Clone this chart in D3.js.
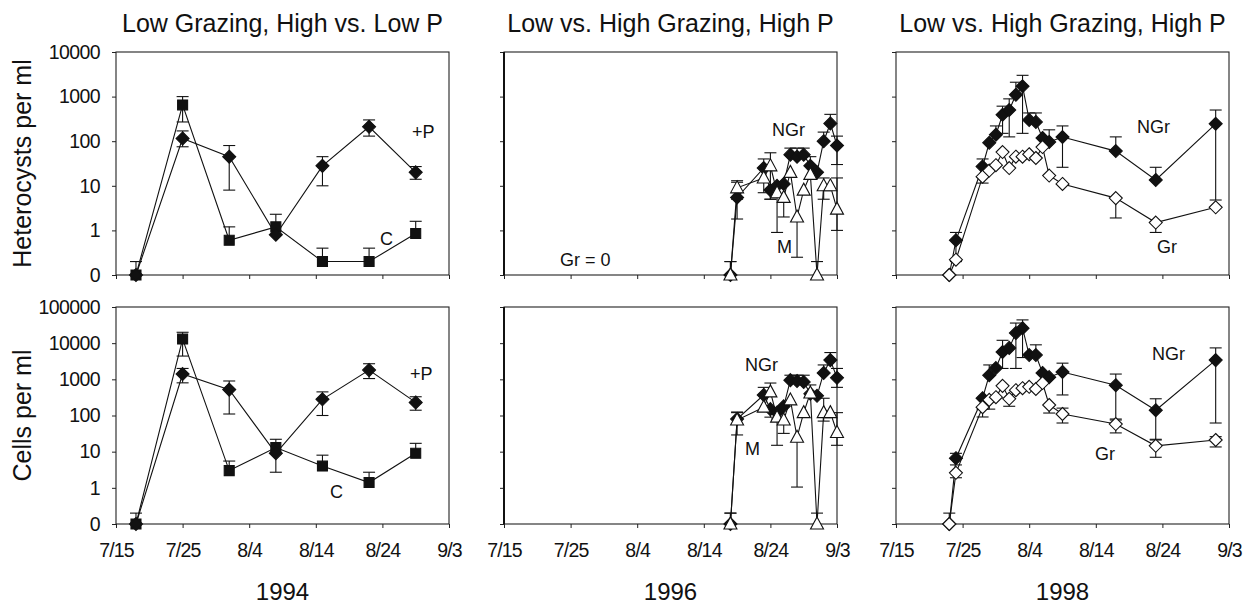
<!DOCTYPE html>
<html><head><meta charset="utf-8">
<script src="https://cdn.jsdelivr.net/npm/d3@7"></script>
<style>
body{margin:0;background:#fff;}
svg text{font-family:"Liberation Sans", Arial, Helvetica, sans-serif; fill:#111;}
</style></head><body>
<svg id="chart" width="1248" height="605"></svg>
<script>
// ---------------- DATA ----------------
const panelTitles = ["Low Grazing, High vs. Low P", "Low vs. High Grazing, High P", "Low vs. High Grazing, High P"];
const years = ["1994", "1996", "1998"];
const rowTitles = ["Heterocysts per ml", "Cells per ml"];
const xTickLabels = ["7/15", "7/25", "8/4", "8/14", "8/24", "9/3"];
const yTicksTop = [0.1, 1, 10, 100, 1000, 10000];
const yTickLabelsTop = ["0", "1", "10", "100", "1000", "10000"];
const yTicksBot = [0.1, 1, 10, 100, 1000, 10000, 100000];
const yTickLabelsBot = ["0", "1", "10", "100", "1000", "10000", "100000"];

const dates94 = ["7/18","7/25","8/1","8/8","8/15","8/22","8/29"];
const dates96 = ["8/18","8/19","8/23","8/24","8/25","8/26","8/27","8/28","8/29","8/30","8/31","9/1","9/2","9/3"];
const dates98 = ["7/23","7/24","7/28","7/29","7/30","7/31","8/1","8/2","8/3","8/4","8/5","8/6","8/7","8/9","8/17","8/23","9/1"];

// 1994 heterocysts: C (control) and +P
const hetC94   = [0, 650, 0.6, 1.2, 0.2, 0.2, 0.85];
const hetC94Hi = [0.2, 1000, 1.2, 2.3, 0.4, 0.4, 1.6];
const hetC94Lo = [null, 270, null, null, null, null, null];
const hetP94   = [0, 115, 45, 0.8, 28, 210, 20];
const hetP94Hi = [null, 170, 80, null, 45, 300, 27];
const hetP94Lo = [null, 75, 8, null, 10, 130, 14];
// 1994 cells
const cellC94   = [0, 13000, 3, 13, 4, 1.4, 9];
const cellC94Hi = [0.2, 20000, 5.5, 22, 8, 2.7, 17];
const cellC94Lo = [null, 4400, null, null, null, null, null];
const cellP94   = [0, 1400, 520, 9, 280, 1800, 230];
const cellP94Hi = [null, 2000, 900, null, 450, 2700, 330];
const cellP94Lo = [null, 800, 110, 2.7, 100, 1050, 140];

// 1996 heterocysts: NGr and M
const hetN96   = [0, 5.5, 25, 8, 10, 11, 50, 45, 50, 28, 20, 100, 250, 80];
const hetN96Hi = [0.2, 12, 40, null, null, null, 70, 70, 70, 45, null, 160, 400, 130];
const hetN96Lo = [null, 1.8, null, 5, 6, null, null, null, null, null, null, null, null, 30];
const hetM96   = [0, 9, 15, 28, 7, 5.5, 20, 2, 8, 18, 0, 10, 10, 3];
const hetM96Hi = [0.2, 13, null, 55, null, null, null, null, null, null, 0.2, 15, null, 15];
const hetM96Lo = [null, 5, 7, 5, 0.9, 2, null, 0.25, null, null, null, 5, null, 1];
// 1996 cells
const cellN96   = [0, 80, 370, 150, 120, 180, 950, 900, 850, 400, 350, 1500, 3400, 1100];
const cellN96Hi = [0.2, 120, 600, null, null, null, 1300, 1300, 1300, 700, null, 2500, 5500, 2000];
const cellN96Lo = [null, null, null, 90, 80, null, null, null, null, null, null, null, null, 600];
const cellM96   = [0, 75, 170, 450, 90, 75, 270, 25, 120, 420, 0, 120, 120, 34];
const cellM96Hi = [0.2, 125, null, 790, null, null, null, null, null, null, 0.2, 300, null, 120];
const cellM96Lo = [null, 29, null, null, 15, 32, null, 1.05, null, null, null, 70, null, 15];

// 1998 heterocysts: NGr and Gr
const hetN98   = [0, 0.6, 27, 92, 140, 390, 500, 1100, 1700, 300, 270, 118, 96, 124, 60, 13.5, 245];
const hetN98Hi = [null, 0.9, 40, null, 220, 610, 890, 2100, 3000, 430, 430, null, 180, 220, 125, 26, 500];
const hetN98Lo = [null, 0.2, null, null, null, 150, 125, null, 150, null, null, null, null, 26, null, null, 4.8];
const hetG98   = [0, 0.22, 16, 22, 29, 57, 25, 45, 45, 51, 42, 74, 17, 11, 5.3, 1.5, 3.3];
const hetG98Hi = [null, null, null, null, null, null, null, null, null, null, null, null, null, null, null, null, null];
const hetG98Lo = [null, null, 11.5, null, null, null, null, null, null, null, null, null, null, null, 1.9, 0.9, null];
// 1998 cells
const cellN98   = [0, 6.6, 300, 1300, 2050, 5700, 7400, 19000, 26000, 4700, 4700, 1500, 1150, 1600, 690, 140, 3400];
const cellN98Hi = [0.2, 9, null, 2500, null, 12000, null, 36000, 44000, null, 9000, null, null, 2800, 1400, 290, 7400];
const cellN98Lo = [null, 4.3, 150, null, null, 2000, null, 2000, 4000, null, null, null, null, 370, 80, 22, 62];
const cellG98   = [0, 2.6, 170, 270, 320, 660, 290, 500, 570, 620, 540, 790, 195, 110, 58, 14.5, 21];
const cellG98Hi = [null, null, null, null, null, null, null, null, null, null, null, null, null, 160, 75, 21, 26];
const cellG98Lo = [null, 1.9, 91, 150, null, null, 180, null, null, null, null, null, 117, 62, 33, 7, 13.5];

// ---------------- LAYOUT ----------------
const svg = d3.select("#chart");
const colX = [116, 504, 896];
const PW = 333;
const rowsLayout = [
  {top: 52, bottom: 275, max: 1e4, ticks: yTicksTop, labels: yTickLabelsTop},
  {top: 307, bottom: 524, max: 1e5, ticks: yTicksBot, labels: yTickLabelsBot}
];
const parse = d3.timeParse("%m/%d/%Y");
const pd = s => parse(s + "/2000");
const floorV = v => Math.max(v, 0.1);

const S = (dates, v, lo, hi, marker) => ({dates, v, lo, hi, marker});
const panels = [
  [ // top row
    [S(dates94, hetC94, hetC94Lo, hetC94Hi, "square"), S(dates94, hetP94, hetP94Lo, hetP94Hi, "diamond")],
    [S(dates96, hetN96, hetN96Lo, hetN96Hi, "diamond"), S(dates96, hetM96, hetM96Lo, hetM96Hi, "triangle")],
    [S(dates98, hetN98, hetN98Lo, hetN98Hi, "diamond"), S(dates98, hetG98, hetG98Lo, hetG98Hi, "openDiamond")]
  ],
  [ // bottom row
    [S(dates94, cellC94, cellC94Lo, cellC94Hi, "square"), S(dates94, cellP94, cellP94Lo, cellP94Hi, "diamond")],
    [S(dates96, cellN96, cellN96Lo, cellN96Hi, "diamond"), S(dates96, cellM96, cellM96Lo, cellM96Hi, "triangle")],
    [S(dates98, cellN98, cellN98Lo, cellN98Hi, "diamond"), S(dates98, cellG98, cellG98Lo, cellG98Hi, "openDiamond")]
  ]
];
// annotation text, offsets relative to panel's top-left corner
const notes = [
  [[["+P", 296, 86], ["C", 264, 193]], [["Gr = 0", 56, 214], ["NGr", 268, 84], ["M", 273, 201]], [["NGr", 241, 81], ["Gr", 261, 201]]],
  [[["+P", 294, 73], ["C", 214, 191]], [["NGr", 241, 64], ["M", 241, 148]], [["NGr", 256, 53], ["Gr", 199, 153]]]
];

const markerPath = {
  square: "M-5,-5H5V5H-5Z",
  diamond: "M0,-6.5L6.5,0L0,6.5L-6.5,0Z",
  openDiamond: "M0,-6.5L6.5,0L0,6.5L-6.5,0Z",
  triangle: "M0,-7L6.5,5L-6.5,5Z"
};
const AX = "#222";

rowsLayout.forEach((row, ri) => {
  const y = d3.scaleLog().domain([0.1, row.max]).range([row.bottom, row.top]);
  colX.forEach((x0, ci) => {
    const x = d3.scaleTime().domain([pd("7/15"), pd("9/3")]).range([x0, x0 + PW]);
    const g = svg.append("g");

    // y axis
    const ya = g.append("g").attr("transform", `translate(${x0},0)`)
      .call(d3.axisLeft(y).tickValues(row.ticks).tickSize(4).tickPadding(12)
        .tickFormat((d, i) => ci === 0 ? row.labels[i] : ""));
    ya.select(".domain").remove();
    ya.selectAll("line").attr("stroke", AX);
    ya.selectAll("text").attr("font-size", 19.5).attr("letter-spacing", -0.6).attr("fill", "#111");

    // x axis
    const xa = g.append("g").attr("transform", `translate(0,${row.bottom})`)
      .call(d3.axisBottom(x).tickValues(xTickLabels.map(pd)).tickSize(4)
        .tickFormat((d, i) => ri === 1 ? xTickLabels[i] : ""));
    xa.select(".domain").remove();
    xa.selectAll("line").attr("stroke", AX);
    xa.selectAll("text").attr("font-size", 19.5).attr("letter-spacing", -0.8).attr("y", 19).attr("fill", "#111");

    // frame
    g.append("rect").attr("x", x0).attr("y", row.top).attr("width", PW).attr("height", row.bottom - row.top)
      .attr("fill", "none").attr("stroke", AX).attr("stroke-width", 1.1);
    if (ci === 1) {
      g.append("line").attr("x1", x0).attr("x2", x0).attr("y1", row.top).attr("y2", row.bottom)
        .attr("stroke", "#111").attr("stroke-width", 2);
    }

    const series = panels[ri][ci];
    // lines
    series.forEach(s => {
      const pts = s.dates.map((d, i) => [x(pd(d)), y(floorV(s.v[i]))]);
      g.append("path").attr("d", d3.line()(pts)).attr("fill", "none").attr("stroke", "#111").attr("stroke-width", 1.1);
    });
    // error bars
    series.forEach(s => {
      s.dates.forEach((d, i) => {
        const xx = x(pd(d)), yv = y(floorV(s.v[i]));
        [s.lo[i], s.hi[i]].forEach(e => {
          if (e === null || e === undefined) return;
          const ye = y(floorV(e));
          g.append("line").attr("x1", xx).attr("x2", xx).attr("y1", yv).attr("y2", ye).attr("stroke", "#111").attr("stroke-width", 1.1);
          g.append("line").attr("x1", xx - 6).attr("x2", xx + 6).attr("y1", ye).attr("y2", ye).attr("stroke", "#111").attr("stroke-width", 1.1);
        });
      });
    });
    // markers
    series.forEach(s => {
      const open = s.marker === "openDiamond" || s.marker === "triangle";
      g.append("g").selectAll("path").data(s.dates.map((d, i) => ({d, v: s.v[i]}))).join("path")
        .attr("transform", p => `translate(${x(pd(p.d))},${y(floorV(p.v))})`)
        .attr("d", markerPath[s.marker])
        .attr("fill", open ? "#fff" : "#111")
        .attr("stroke", "#111").attr("stroke-width", 1.1);
    });

    // annotations
    notes[ri][ci].forEach(([t, dx, dy]) => {
      g.append("text").attr("x", x0 + dx).attr("y", row.top + dy).attr("font-size", 18).text(t);
    });

    // panel title / year
    if (ri === 0) {
      svg.append("text").attr("x", x0 + PW / 2).attr("y", 32).attr("text-anchor", "middle")
        .attr("font-size", 25).text(panelTitles[ci]);
    } else {
      svg.append("text").attr("x", x0 + PW / 2).attr("y", 600).attr("text-anchor", "middle")
        .attr("font-size", 24).text(years[ci]);
    }
  });
  // row title
  const cy = (row.top + row.bottom) / 2;
  svg.append("text").attr("transform", `translate(31,${cy}) rotate(-90)`).attr("text-anchor", "middle")
    .attr("font-size", 25).text(rowTitles[ri]);
});
</script>
</body></html>
